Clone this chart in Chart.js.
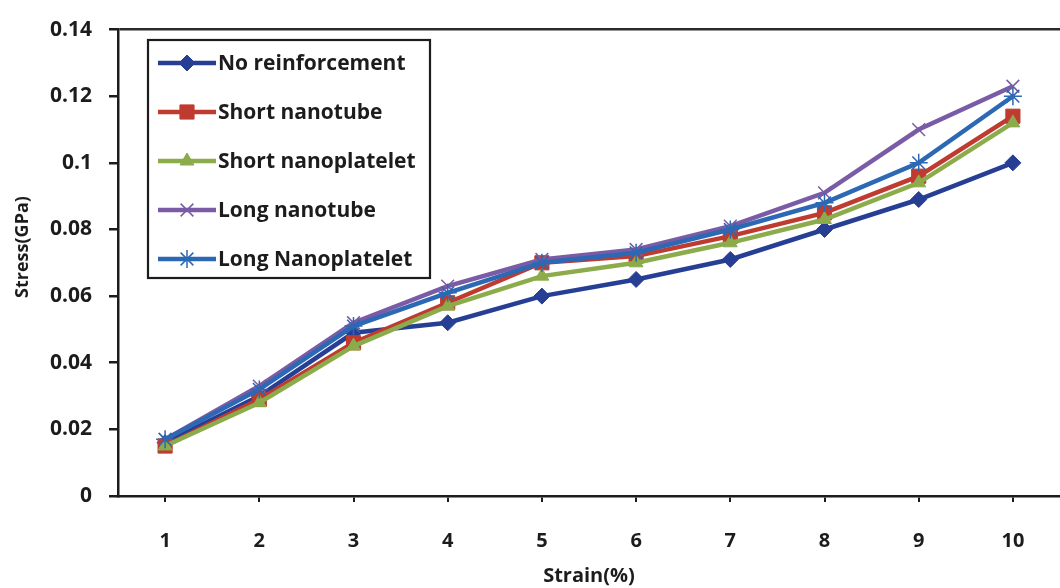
<!DOCTYPE html>
<html>
<head>
<meta charset="utf-8">
<script src="https://cdn.jsdelivr.net/npm/chart.js@4.4.1/dist/chart.umd.min.js"></script>
<style>
  html, body { margin: 0; padding: 0; background: #ffffff; }
  #wrap { width: 1060px; height: 588px; position: relative; }
</style>
</head>
<body>
<div id="wrap"><canvas id="c" width="1060" height="588"></canvas></div>
<script>
// Strain steps (%)
const strainLabels = ['1', '2', '3', '4', '5', '6', '7', '8', '9', '10'];

// Stress (GPa) for each reinforcement type
const noReinforcement    = [0.016, 0.030, 0.049, 0.052, 0.060, 0.065, 0.071, 0.080, 0.089, 0.100];
const shortNanotube      = [0.015, 0.029, 0.046, 0.058, 0.070, 0.072, 0.078, 0.085, 0.096, 0.114];
const shortNanoplatelet  = [0.015, 0.028, 0.045, 0.057, 0.066, 0.070, 0.076, 0.083, 0.094, 0.112];
const longNanotube       = [0.017, 0.033, 0.052, 0.063, 0.071, 0.074, 0.081, 0.091, 0.110, 0.123];
const longNanoplatelet   = [0.017, 0.032, 0.051, 0.061, 0.070, 0.073, 0.080, 0.088, 0.100, 0.120];

const seriesNames = ['No reinforcement', 'Short nanotube', 'Short nanoplatelet', 'Long nanotube', 'Long Nanoplatelet'];
const seriesData = [noReinforcement, shortNanotube, shortNanoplatelet, longNanotube, longNanoplatelet];

// y-axis ticks (GPa)
const stressTicks = [0, 0.02, 0.04, 0.06, 0.08, 0.1, 0.12, 0.14];

const colors = ['#263f94', '#bf3b30', '#8cab4a', '#7a5ba5', '#2c68b3'];
const markers = [
  { style: 'rectRot',  radius: 8,  width: 1 },
  { style: 'rect',     radius: 10, width: 1 },
  { style: 'triangle', radius: 8,  width: 1 },
  { style: 'crossRot', radius: 9,  width: 1.5 },
  { style: 'star',     radius: 9,  width: 1.5 }
];

const FONT = '"Open Sans", Lato, "DejaVu Sans", sans-serif';
const INK = '#1c1c1c';

const datasets = seriesData.map((d, i) => ({
  label: seriesNames[i],
  data: d,
  borderColor: colors[i],
  backgroundColor: colors[i],
  borderWidth: 4.5,
  tension: 0,
  pointStyle: markers[i].style,
  pointRadius: markers[i].radius,
  pointHoverRadius: markers[i].radius,
  pointBorderWidth: markers[i].width,
  pointBackgroundColor: colors[i],
  pointBorderColor: colors[i],
  clip: false,
  order: seriesData.length - i   // later series drawn on top
}));

// Boxed legend with line + marker samples
const boxLegend = {
  id: 'boxLegend',
  afterDatasetsDraw(chart) {
    const ctx = chart.ctx;
    const box = { x: 148, y: 40, w: 282, h: 238 };
    ctx.save();
    ctx.fillStyle = '#ffffff';
    ctx.fillRect(box.x, box.y, box.w, box.h);
    ctx.lineWidth = 2.2;
    ctx.strokeStyle = INK;
    ctx.strokeRect(box.x, box.y, box.w, box.h);
    seriesNames.forEach((name, i) => {
      const y = 63 + 49 * i;
      ctx.beginPath();
      ctx.strokeStyle = colors[i];
      ctx.lineWidth = 4.5;
      ctx.moveTo(158, y);
      ctx.lineTo(216, y);
      ctx.stroke();
      ctx.fillStyle = colors[i];
      ctx.strokeStyle = colors[i];
      ctx.lineWidth = markers[i].width;
      Chart.helpers.drawPoint(ctx, {
        pointStyle: markers[i].style,
        radius: markers[i].radius,
        rotation: 0,
        borderWidth: markers[i].width
      }, 187, y);
      ctx.fillStyle = INK;
      ctx.font = 'bold 21px ' + FONT;
      ctx.textBaseline = 'middle';
      ctx.textAlign = 'left';
      ctx.fillText(name, 218, y + 1);
    });
    ctx.restore();
  }
};

// Rotated y-axis title
const yTitle = {
  id: 'yTitle',
  afterDraw(chart) {
    const ctx = chart.ctx;
    ctx.save();
    ctx.translate(23, 247);
    ctx.rotate(-Math.PI / 2);
    ctx.fillStyle = INK;
    ctx.font = 'bold 18px ' + FONT;
    ctx.textAlign = 'center';
    ctx.textBaseline = 'middle';
    ctx.fillText('Stress(GPa)', 0, 0);
    ctx.restore();
  }
};

new Chart(document.getElementById('c'), {
  type: 'line',
  data: { labels: strainLabels, datasets },
  plugins: [boxLegend, yTitle],
  options: {
    responsive: false,
    animation: false,
    layout: { autoPadding: false, padding: { top: 24, right: 0, left: 0, bottom: 0 } },
    plugins: {
      legend: { display: false },
      tooltip: { enabled: false }
    },
    scales: {
      x: {
        type: 'category',
        offset: true,
        afterFit(scale) {
          scale.height = 92;
          scale.paddingLeft = 0;
          scale.paddingRight = 0;
        },
        grid: {
          offset: false,
          drawOnChartArea: false,
          color: INK,
          tickColor: INK,
          tickLength: 6,
          lineWidth: 2
        },
        border: { color: INK, width: 2.5 },
        ticks: {
          color: INK,
          padding: 27,
          font: { family: FONT, size: 20, weight: 'bold' }
        },
        title: {
          display: true,
          text: 'Strain(%)',
          color: INK,
          padding: { top: 0, bottom: 0 },
          font: { family: FONT, size: 20, weight: 'bold' }
        }
      },
      y: {
        min: 0,
        max: 0.14,
        afterFit(scale) { scale.width = 118; },
        afterBuildTicks(scale) { scale.ticks = stressTicks.map(v => ({ value: v })); },
        grid: {
          drawOnChartArea: true,
          color: ctx => (ctx.tick && Math.abs(ctx.tick.value - 0.14) < 1e-9) ? '#2a2a2a' : 'rgba(0,0,0,0)',
          lineWidth: 2.5,
          tickColor: INK,
          tickLength: 9
        },
        border: { color: INK, width: 2.5 },
        ticks: {
          color: INK,
          padding: 17,
          font: { family: FONT, size: 21, weight: 'bold' },
          callback: v => String(+Number(v).toFixed(2))
        },
        title: { display: false }
      }
    }
  }
});
</script>
</body>
</html>
